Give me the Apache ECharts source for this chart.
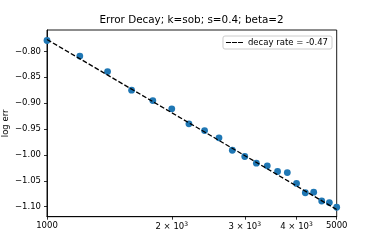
<!DOCTYPE html>
<html><head><meta charset="utf-8">
<script src="https://cdn.jsdelivr.net/npm/echarts@6/dist/echarts.min.js"></script>
<style>html,body{margin:0;padding:0;background:#fff}#c{width:374px;height:249px}</style>
</head><body><div id="c"></div>
<script>
const titleText = 'Error Decay; k=sob; s=0.4; beta=2';
const legendLabel = 'decay rate = -0.47';
const nValues = [1000,1200,1400,1600,1800,2000,2200,2400,2600,2800,3000,3200,3400,3600,3800,4000,4200,4400,4600,4800,5000];
const logErr = [-0.779,-0.809,-0.839,-0.875,-0.895,-0.911,-0.940,-0.953,-0.967,-0.991,-1.003,-1.016,-1.021,-1.032,-1.034,-1.055,-1.073,-1.072,-1.089,-1.092,-1.101];
const fitX = [1000,5000];
const fitY = [-0.777,-1.1055];
const xTicks = [1000,2000,3000,4000,5000];
const yTicks = [-1.10,-1.05,-1.00,-0.95,-0.90,-0.85,-0.80];

const FONT = 'DejaVu Sans';
const xTickVals = xTicks.concat(xTicks.map(v => Math.log10(v)));
const chart = echarts.init(document.getElementById('c'), null, {renderer:'canvas'});
chart.setOption({
  animation:false,
  backgroundColor:'#fff',
  title:{text:titleText,left:99.5,top:15,textStyle:{fontFamily:FONT,fontSize:10.4,fontWeight:'normal',color:'#000'},padding:0},
  legend:{data:[{name:legendLabel,icon:'path://M0,0H5V1H0Z M6,0H11V1H6Z M12,0H17V1H12Z'}],right:42,top:36,orient:'vertical',itemWidth:17,itemHeight:1.4,
    padding:[2,4,2,3],borderColor:'#ccc',borderWidth:1,borderRadius:2,backgroundColor:'#fff',
    itemStyle:{color:'#000'},
    textStyle:{fontFamily:FONT,fontSize:8.5,color:'#000'}},
  grid:{left:47,right:37.3,top:30,bottom:32.3,show:true,borderColor:'#000',borderWidth:0.9,containLabel:false,outerBoundsMode:'none'},
  xAxis:{type:'log',logBase:10,min:1000,max:5000,
    axisLine:{lineStyle:{color:'#000',width:0.9}},
    axisTick:{customValues:xTickVals,length:3,lineStyle:{color:'#000',width:0.8}},
    axisLabel:{customValues:xTickVals,margin:5,color:'#000',fontFamily:FONT,fontSize:8.5,
      formatter:function(v){const n=v<100?Math.pow(10,v):v;const k=Math.round(n/1000);
        if(k===1)return '1000'; if(k===5)return '5000'; return '{a|'+k+' × 10}{s|3}';},
      rich:{a:{fontFamily:FONT,fontSize:8.5,color:'#000'},s:{fontFamily:FONT,fontSize:6,color:'#000',padding:[0,0,5,0]}}},
    splitLine:{show:false},minorTick:{show:false}},
  yAxis:{type:'value',min:-1.1193,max:-0.7587,name:'log err',nameLocation:'middle',nameGap:37,nameMoveOverlap:false,
    nameTextStyle:{fontFamily:FONT,fontSize:8.5,color:'#000'},
    axisLine:{show:true,lineStyle:{color:'#000',width:0.9}},
    axisTick:{show:true,customValues:yTicks,length:3,lineStyle:{color:'#000',width:0.8}},
    axisLabel:{customValues:yTicks,margin:6,color:'#000',fontFamily:FONT,fontSize:8.5,
      formatter:function(v){return (v<0?'\u2212':'')+Math.abs(v).toFixed(2);}},
    splitLine:{show:false}},
  series:[
    {type:'scatter',name:'points',data:nValues.map((n,i)=>[n,logErr[i]]),symbolSize:6.8,
      itemStyle:{color:'#1f77b4',opacity:1},z:2},
    {type:'line',name:legendLabel,data:fitX.map((n,i)=>[n,fitY[i]]),symbol:'none',showSymbol:false,
      lineStyle:{color:'#000',width:1.3,type:[4.8,2.1]},itemStyle:{color:'#000'},z:3}
  ]
});
</script></body></html>
